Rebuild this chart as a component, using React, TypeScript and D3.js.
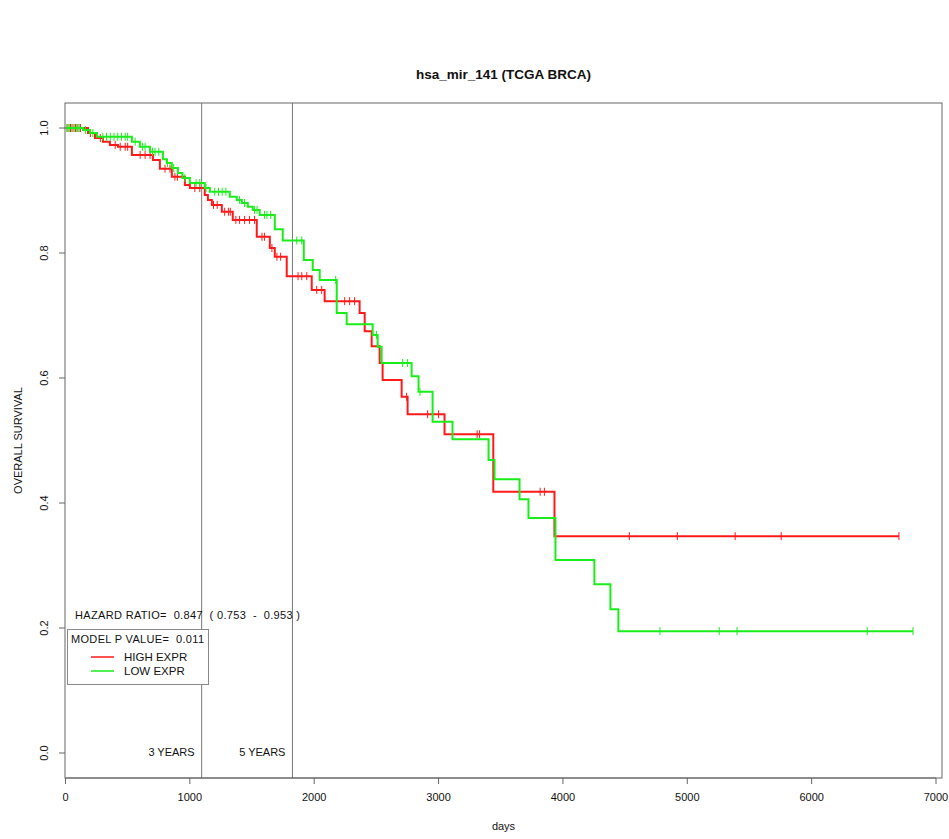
import React from "react";
import * as d3 from "d3";

const TITLE = "hsa_mir_141 (TCGA BRCA)";
const xTicks = [0, 1000, 2000, 3000, 4000, 5000, 6000, 7000];
const yTicks = [0, 0.2, 0.4, 0.6, 0.8, 1.0];

// HIGH EXPR (red) : [day of event, survival after event]
const highSteps: [number, number][] = [
  [0, 1.0], [181, 0.992], [237, 0.984], [301, 0.978], [357, 0.973], [422, 0.97],
  [534, 0.957], [703, 0.949], [759, 0.935], [855, 0.922], [960, 0.909], [1000, 0.904],
  [1120, 0.893], [1145, 0.885], [1177, 0.877], [1257, 0.866], [1345, 0.853],
  [1538, 0.826], [1643, 0.808], [1683, 0.794], [1779, 0.763], [1980, 0.741],
  [2084, 0.723], [2365, 0.704], [2406, 0.675], [2462, 0.651], [2526, 0.624],
  [2550, 0.597], [2703, 0.57], [2751, 0.542], [3048, 0.51], [3440, 0.418],
  [3932, 0.347],
];
const highEnd = 6702;
const highCensor = [
  20, 40, 60, 80, 100, 120, 200, 280, 400, 440, 480, 500, 600, 640, 680, 800, 840,
  880, 900, 1040, 1080, 1190, 1220, 1280, 1310, 1325, 1370, 1400, 1440, 1480, 1520,
  1580, 1600, 1660, 1700, 1730, 1870, 1900, 1940, 2020, 2060, 2245, 2285, 2325,
  2743, 2912, 3000, 3310, 3330, 3817, 3851, 4534, 4920, 5385, 5755, 6702,
];

// LOW EXPR (green)
const lowSteps: [number, number][] = [
  [0, 1.0], [141, 0.997], [197, 0.992], [253, 0.986], [534, 0.978], [598, 0.97],
  [679, 0.962], [783, 0.95], [815, 0.944], [855, 0.936], [904, 0.928], [940, 0.92],
  [1000, 0.912], [1120, 0.904], [1161, 0.898], [1321, 0.89], [1377, 0.885],
  [1418, 0.88], [1466, 0.874], [1506, 0.869], [1562, 0.861], [1683, 0.838],
  [1747, 0.82], [1916, 0.789], [1988, 0.773], [2044, 0.757], [2181, 0.704],
  [2261, 0.686], [2470, 0.669], [2510, 0.65], [2542, 0.624], [2783, 0.603],
  [2839, 0.578], [2952, 0.53], [3112, 0.502], [3402, 0.469], [3450, 0.438],
  [3651, 0.406], [3723, 0.376], [3940, 0.309], [4253, 0.27], [4382, 0.23],
  [4446, 0.195],
];
const lowEnd = 6815;
const lowCensor = [
  10, 30, 50, 70, 90, 110, 160, 220, 300, 330, 360, 390, 420, 450, 480, 500, 560,
  620, 640, 700, 720, 750, 820, 870, 960, 1050, 1080, 1130, 1200, 1230, 1260, 1290,
  1400, 1440, 1520, 1540, 1600, 1620, 1650, 1860, 1900, 2173, 2500, 2711, 2751, 2850,
  4780, 5257, 5400, 6447, 6815,
];

const HR_TEXT = "HAZARD RATIO=  0.847  ( 0.753  -  0.953 )";
const P_TEXT = "MODEL P VALUE=  0.011";
const legendLabels = ["HIGH EXPR", "LOW EXPR"];
const markLines = [
  { day: 1095, label: "3 YEARS" },
  { day: 1825, label: "5 YEARS" },
];

const RED = "#ff1a1a";
const GREEN = "#1aee1a";
const FONT = "'Liberation Sans', Arial, Helvetica, sans-serif";

export default function App() {
  const W = 949, H = 839;
  const x = d3.scaleLinear().domain([0, 7000]).range([65.5, 936]);
  const y = d3.scaleLinear().domain([0, 1]).range([753, 128]);
  const box = { l: 65, r: 942, t: y(1.04), b: y(-0.04) };

  const line = d3
    .line<[number, number]>()
    .x((d) => x(d[0]))
    .y((d) => y(d[1]))
    .curve(d3.curveStepAfter);

  const survAt = (steps: [number, number][], t: number) => {
    let s = 1;
    for (const [tt, ss] of steps) if (tt <= t) s = ss;
    return s;
  };

  const curves = [
    { steps: highSteps, end: highEnd, cens: highCensor, color: RED },
    { steps: lowSteps, end: lowEnd, cens: lowCensor, color: GREEN },
  ];

  return (
    <svg width={W} height={H} style={{ display: "block", position: "absolute", left: 0, top: 0, background: "#fff" }} fontFamily={FONT}>
      <rect x={0} y={0} width={W} height={H} fill="#fff" />
      <text x={(box.l + box.r) / 2} y={79} textAnchor="middle" fontSize={13.5} fontWeight="bold" fill="#111">
        {TITLE}
      </text>

      {/* year lines */}
      {markLines.map((m) => (
        <g key={m.label}>
          <line x1={x(m.day)} x2={x(m.day)} y1={box.t} y2={box.b} stroke="#777" strokeWidth={1} />
          <text x={x(m.day) - 7} y={756} textAnchor="end" fontSize={11} fill="#111">
            {m.label}
          </text>
        </g>
      ))}

      {/* curves */}
      {curves.map((c, i) => {
        const pts: [number, number][] = [...c.steps, [c.end, c.steps[c.steps.length - 1][1]]];
        return (
          <g key={i}>
            <path d={line(pts) || ""} fill="none" stroke={c.color} strokeWidth={2} />
            {c.cens.map((t, j) => {
              const s = survAt(c.steps, t);
              return (
                <line key={j} x1={x(t)} x2={x(t)} y1={y(s) - 4} y2={y(s) + 4} stroke={c.color} strokeWidth={1} />
              );
            })}
          </g>
        );
      })}

      {/* box */}
      <rect x={box.l} y={box.t} width={box.r - box.l} height={box.b - box.t} fill="none" stroke="#666" strokeWidth={1} />

      {/* x axis */}
      <line x1={x(0)} x2={x(7000)} y1={box.b} y2={box.b} stroke="#666" />
      {xTicks.map((t) => (
        <g key={t}>
          <line x1={x(t)} x2={x(t)} y1={box.b} y2={box.b + 6} stroke="#666" />
          <text x={x(t)} y={801} textAnchor="middle" fontSize={11} fill="#111">
            {t}
          </text>
        </g>
      ))}
      <text x={(box.l + box.r) / 2} y={830} textAnchor="middle" fontSize={11} fill="#111">
        days
      </text>

      {/* y axis */}
      {yTicks.map((t) => (
        <g key={t}>
          <line x1={box.l - 6} x2={box.l} y1={y(t)} y2={y(t)} stroke="#666" />
          <text
            transform={`translate(48,${y(t)}) rotate(-90)`}
            textAnchor="middle"
            fontSize={11}
            fill="#111"
          >
            {t.toFixed(1)}
          </text>
        </g>
      ))}
      <text transform={`translate(22,${(box.t + box.b) / 2}) rotate(-90)`} textAnchor="middle" fontSize={11} fill="#111">
        OVERALL SURVIVAL
      </text>

      {/* hazard ratio + legend */}
      <text x={75} y={619} fontSize={11} fill="#111" xmlSpace="preserve" textLength={225} lengthAdjust="spacing">
        {HR_TEXT}
      </text>
      <rect x={67.5} y={629.5} width={141} height={55} fill="#fff" stroke="#888" />
      <text x={71} y={643} fontSize={11} fill="#111" xmlSpace="preserve" textLength={133} lengthAdjust="spacing">
        {P_TEXT}
      </text>
      {legendLabels.map((lab, i) => (
        <g key={lab}>
          <line x1={91} x2={114} y1={657 + i * 14} y2={657 + i * 14} stroke={i === 0 ? RED : GREEN} strokeWidth={1.5} />
          <text x={124} y={661 + i * 14} fontSize={11.5} fill="#111">
            {lab}
          </text>
        </g>
      ))}
    </svg>
  );
}
